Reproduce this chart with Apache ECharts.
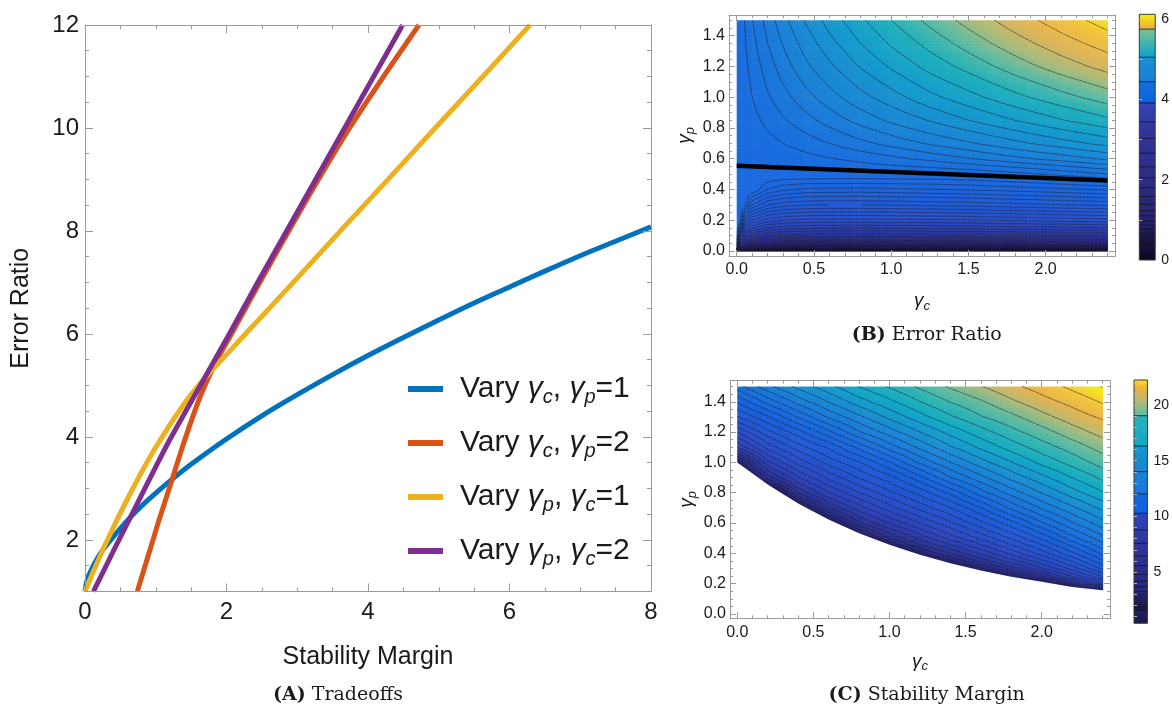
<!DOCTYPE html>
<html>
<head>
<meta charset="utf-8">
<script src="https://cdn.jsdelivr.net/npm/echarts@6.0.0/dist/echarts.min.js"></script>
<style>
html,body{margin:0;padding:0;background:#ffffff;}
#chart{width:1172px;height:706px;}
</style>
</head>
<body>
<div id="chart"></div>
<script>
// ================= DATA =================
// Panel A: Tradeoffs
const seriesNames = ['Vary γc, γp=1', 'Vary γc, γp=2', 'Vary γp, γc=1', 'Vary γp, γc=2'];
const blueX = [0, 0.03, 0.08, 0.15, 0.25, 0.4, 0.6, 0.8, 1.0, 1.25, 1.5, 2.0, 2.5, 3.0, 3.5, 4.0, 4.5, 5.0, 5.5, 6.0, 6.5, 7.0, 7.5, 8.0];
const blueY = [1.0, 1.22, 1.39, 1.58, 1.8, 2.06, 2.38, 2.66, 2.91, 3.2, 3.47, 3.96, 4.41, 4.82, 5.21, 5.58, 5.93, 6.27, 6.6, 6.91, 7.22, 7.52, 7.8, 8.08];
const redX = [0.74, 0.85, 0.95, 1.05, 1.21, 1.4, 1.63, 1.85, 2.07, 2.47, 2.88, 3.3, 3.74, 4.22, 4.72];
const redY = [1, 1.5, 1.95, 2.4, 3.08, 3.9, 4.79, 5.45, 6, 7, 8, 9, 10, 11, 12];
const yellowX = [0, 0.1, 0.3, 0.65, 1.0, 1.4, 1.7, 2.33, 2.99, 3.65, 4.31, 4.97, 5.63, 6.29];
const yellowY = [1, 1.33, 1.95, 2.93, 3.8, 4.64, 5.15, 6.09, 7.07, 8.06, 9.04, 10.03, 11.01, 12];
const purpleX = [0.12, 0.4, 0.7, 1.0, 1.2, 1.63, 2.04, 2.44, 2.85, 3.26, 3.67, 4.08, 4.49];
const purpleY = [1, 1.78, 2.6, 3.42, 3.95, 5, 6, 7, 8, 9, 10, 11, 12];
const ticksAx = [0, 2, 4, 6, 8];
const ticksAy = [2, 4, 6, 8, 10, 12];

// Panel B: Error Ratio on a (gamma_c, gamma_p) grid
const gammaCB = [0, 0.02, 0.05, 0.1, 0.2, 0.3, 0.45, 0.6, 0.8, 1.0, 1.25, 1.5, 1.8, 2.1, 2.4];
const gammaPB = [0, 0.02, 0.05, 0.1, 0.15, 0.2, 0.3, 0.4, 0.5, 0.6, 0.7, 0.85, 1.0, 1.2, 1.35, 1.5];
const errorRatio = [
  [0, 0, 0, 0, 0, 0, 0, 0, 0, 0, 0, 0, 0, 0, 0],
  [3.9, 1.07, 0.80, 0.69, 0.64, 0.62, 0.61, 0.61, 0.60, 0.61, 0.61, 0.62, 0.62, 0.63, 0.64],
  [3.9, 1.83, 1.36, 1.18, 1.08, 1.05, 1.03, 1.03, 1.03, 1.03, 1.04, 1.05, 1.06, 1.07, 1.09],
  [3.9, 2.73, 2.03, 1.76, 1.62, 1.57, 1.55, 1.54, 1.54, 1.54, 1.55, 1.57, 1.59, 1.61, 1.63],
  [3.9, 3.46, 2.57, 2.23, 2.05, 1.99, 1.96, 1.95, 1.94, 1.95, 1.96, 1.98, 2.01, 2.03, 2.06],
  [3.9, 3.9, 3.04, 2.63, 2.42, 2.35, 2.31, 2.30, 2.30, 2.31, 2.32, 2.34, 2.37, 2.40, 2.43],
  [3.9, 3.9, 3.85, 3.33, 3.06, 2.97, 2.92, 2.91, 2.91, 2.92, 2.94, 2.96, 3.00, 3.04, 3.08],
  [3.9, 3.9, 3.9, 3.9, 3.62, 3.51, 3.45, 3.44, 3.43, 3.45, 3.47, 3.50, 3.54, 3.59, 3.64],
  [3.9, 3.9, 3.9, 3.9, 3.9, 3.9, 3.9, 3.9, 3.9, 3.9, 3.9, 3.92, 3.99, 4.08, 4.18],
  [3.9, 3.90, 3.91, 3.92, 3.93, 3.95, 3.99, 4.03, 4.08, 4.14, 4.22, 4.31, 4.42, 4.52, 4.63],
  [3.9, 3.91, 3.92, 3.95, 3.99, 4.04, 4.11, 4.18, 4.28, 4.37, 4.48, 4.58, 4.71, 4.83, 4.94],
  [3.9, 3.92, 3.95, 3.99, 4.08, 4.16, 4.27, 4.38, 4.51, 4.63, 4.76, 4.89, 5.03, 5.16, 5.28],
  [3.9, 3.93, 3.97, 4.04, 4.16, 4.27, 4.41, 4.54, 4.70, 4.83, 4.99, 5.12, 5.27, 5.40, 5.52],
  [3.9, 3.94, 4.00, 4.09, 4.25, 4.39, 4.57, 4.72, 4.90, 5.05, 5.22, 5.36, 5.52, 5.66, 5.78],
  [3.9, 3.95, 4.02, 4.13, 4.32, 4.47, 4.67, 4.84, 5.03, 5.19, 5.36, 5.51, 5.67, 5.81, 5.93],
  [3.9, 3.96, 4.04, 4.17, 4.38, 4.55, 4.77, 4.95, 5.14, 5.31, 5.49, 5.64, 5.80, 5.94, 6.07]
];
const thickLineB = [[0, 0.555], [2.4, 0.459]];
const levelsB = [4.04, 4.18, 4.32, 4.46, 4.60, 4.75, 4.89, 5.03, 5.17, 5.31, 5.45, 5.59, 5.73, 5.87, 6.01,
  3.76, 3.62, 3.48, 3.34, 3.20, 3.05, 2.91, 2.77, 2.63, 2.49, 2.35, 2.21, 2.07, 1.93, 1.79, 1.65, 1.51, 1.37, 1.23, 1.09, 0.95, 0.81, 0.67, 0.53, 0.39, 0.25, 0.11];
const ticksBx = [0, 0.5, 1.0, 1.5, 2.0];
const ticksBy = [0, 0.2, 0.4, 0.6, 0.8, 1.0, 1.2, 1.4];
const barTicksB = [0, 2, 4, 6];
const barLinesB = [5.75, 5.05, 4.44, 3.91, 3.44, 3.03, 2.66, 2.32, 2.05, 1.8, 1.58, 1.39, 1.23, 1.1, 0.97, 0.87, 0.77, 0.69, 0.62, 0.57, 0.52, 0.47, 0.43, 0.39, 0.35];
const barRangeB = [0, 6.12];

// Panel C: Stability Margin on a (gamma_c, gamma_p) grid
const gammaCC = [0, 0.2, 0.4, 0.6, 0.8, 1.0, 1.2, 1.4, 1.6, 1.8, 2.0, 2.2, 2.4];
const gammaPC = [0.1, 0.15, 0.2, 0.25, 0.3, 0.35, 0.4, 0.45, 0.5, 0.6, 0.7, 0.8, 0.9, 1.0, 1.1, 1.2, 1.3, 1.4, 1.5];
const stabilityMargin = [
  [-6.4, -6.4, -6.4, -6.4, -6.4, -6.4, -6.4, -6.4, -6.4, -6.4, -4.9, -4.2, -2.7],
  [-6.4, -6.4, -6.4, -6.4, -6.4, -6.4, -6.4, -6.4, -6.4, -3.4, -2.0, -1.2, 0.26],
  [-6.4, -6.4, -6.4, -6.4, -6.4, -6.4, -6.4, -6.4, -2.7, -0.5, 0.3, 2.7, 5.7],
  [-6.4, -6.4, -6.4, -6.4, -6.4, -6.4, -4.9, -2.7, -0.3, 1.2, 3.3, 5.5, 7.8],
  [-6.4, -6.4, -6.4, -6.4, -6.4, -6.4, -2.0, -0.2, 1.6, 3.5, 5.3, 7.2, 9.3],
  [-6.4, -6.4, -6.4, -6.4, -6.4, -3.4, -0.3, 1.6, 3.5, 5.1, 6.7, 8.5, 10.5],
  [-6.4, -6.4, -6.4, -6.4, -4.9, -1.1, 1.4, 3.3, 4.8, 6.4, 8.0, 9.7, 11.5],
  [-6.4, -6.4, -6.4, -6.4, -2.0, 0.8, 3.0, 4.5, 6.0, 7.5, 9.0, 10.7, 12.5],
  [-6.4, -6.4, -6.4, -2.7, -0.1, 2.5, 4.2, 5.7, 7.1, 8.5, 10.0, 11.8, 13.3],
  [-6.4, -6.4, -3.4, 0.3, 3.1, 4.8, 6.2, 7.5, 8.9, 10.3, 12.0, 13.5, 14.8],
  [-4.9, -3.4, 0.0, 3.3, 5.1, 6.6, 7.9, 9.1, 10.6, 12.3, 13.7, 14.9, 16.0],
  [-3.4, -1.3, 3.3, 5.4, 6.9, 8.2, 9.4, 10.8, 12.5, 13.9, 15.1, 16.2, 17.2],
  [-1.2, 2.9, 5.4, 7.1, 8.5, 9.6, 11.1, 12.8, 14.1, 15.3, 16.3, 17.3, 18.2],
  [1.0, 5.2, 7.2, 8.7, 9.8, 11.3, 13.0, 14.3, 15.5, 16.5, 17.5, 18.3, 19.1],
  [4.8, 7.2, 8.8, 10.0, 11.6, 13.2, 14.5, 15.7, 16.7, 17.6, 18.4, 19.1, 19.8],
  [7.0, 8.9, 10.3, 11.9, 13.5, 14.7, 15.8, 16.8, 17.7, 18.5, 19.2, 19.9, 20.5],
  [9.1, 10.5, 12.2, 13.7, 14.9, 16.0, 17.0, 17.9, 18.7, 19.3, 20.0, 20.6, 21.1],
  [10.7, 12.4, 13.9, 15.1, 16.2, 17.1, 18.0, 18.8, 19.4, 20.1, 20.7, 21.2, 21.8],
  [12.5, 14.1, 15.3, 16.3, 17.3, 18.1, 18.9, 19.6, 20.2, 20.8, 21.3, 21.9, 22.5]
];
const boundaryGc = [0, 0.2, 0.4, 0.6, 0.8, 1.0, 1.2, 1.4, 1.6, 1.8, 2.0, 2.2, 2.4];
const boundaryGp = [1.0, 0.855, 0.729, 0.623, 0.533, 0.456, 0.39, 0.335, 0.287, 0.246, 0.212, 0.178, 0.157];
const levelsC = [1.74, 2.48, 3.22, 3.96, 4.70, 5.44, 6.18, 6.92, 7.66, 8.40, 9.14, 9.88, 10.62, 11.36, 12.10, 12.84, 13.58, 14.32, 15.06, 15.80, 16.54, 17.28, 18.02, 18.76, 19.50, 20.24, 20.98, 21.72, 22.46];
const ticksCx = [0, 0.5, 1.0, 1.5, 2.0];
const ticksCy = [0, 0.2, 0.4, 0.6, 0.8, 1.0, 1.2, 1.4];
const barTicksC = [5, 10, 15, 20];
const barLinesC = [19.04, 16.32, 14.01, 12.01, 10.28, 8.78, 7.58, 6.44, 5.57, 4.8, 4.2, 3.69, 3.24, 2.94, 2.7, 2.49, 2.28, 2.1, 1.95, 1.82, 1.68, 1.55];
const barRangeC = [0.4, 22.25];

// ================= STYLE =================
const SANS = 'Liberation Sans, Arial, sans-serif';
const SERIF = 'DejaVu Serif, serif';
const FRAME = '#9a9a9a';
const TXT = '#1a1a1a';
const CONTOUR = 'rgba(30,30,50,0.6)';
const lineColors = ['#0072BD', '#D95319', '#EDB120', '#7E2F8E'];
const paletteB = [[0, '#06051a'], [0.3, '#0e0c30'], [0.6, '#181650'], [0.95, '#221f6a'], [1.35, '#2a2e90'], [1.8, '#2c3ca8'], [2.3, '#2a4cc4'], [2.8, '#2458d2'], [3.3, '#1e62da'], [3.9, '#1a6ae0'], [4.3, '#1b78da'], [4.7, '#1a8ad4'], [5.05, '#159ecc'], [5.3, '#20b0bc'], [5.5, '#5cbca4'], [5.65, '#a8bc7c'], [5.8, '#e0b458'], [5.95, '#f2c040'], [6.12, '#f8ee10']];
const paletteC = [[0.4, '#17133f'], [1.0, '#1f1b5c'], [2.0, '#28287c'], [3.5, '#2c3496'], [5.0, '#2d40b2'], [7.0, '#2a4cc6'], [9.0, '#2258d2'], [11.0, '#1864dc'], [13.0, '#1a74da'], [15.0, '#1a88d4'], [16.3, '#169ccc'], [17.3, '#12aac4'], [18.5, '#30b4b4'], [19.5, '#70bc98'], [20.3, '#b8ba74'], [21.0, '#e8b44c'], [21.7, '#f4c838'], [22.4, '#f8ec18']];
const barPaletteB = [[0, '#08061a'], [0.5, '#1c1850'], [1.0, '#26236e'], [2.0, '#2c2c86'], [3.0, '#2f3394'], [3.4, '#3038a2'], [3.9, '#2f46b8'], [3.95, '#0c62e0'], [4.4, '#1270dc'], [4.5, '#1a80d8'], [5.0, '#1a90d2'], [5.1, '#10a6c8'], [5.7, '#78c094'], [5.78, '#eeb040'], [6.12, '#f8f010']];
const barPaletteC = [[0.4, '#1a1646'], [2.0, '#262474'], [5.0, '#2c2c88'], [8.0, '#3038a4'], [10.2, '#2e44bc'], [10.35, '#0e60e0'], [12.0, '#1268dc'], [12.1, '#1676da'], [14.0, '#1a84d6'], [16.3, '#1596ce'], [16.4, '#10a8c8'], [19.0, '#2ab4b8'], [19.1, '#62bca0'], [20.5, '#c0b870'], [21.5, '#f0b040'], [22.25, '#f8ec18']];

// ================= HELPERS =================
function zip(xs, ys) { return xs.map((x, k) => [x, ys[k]]); }
function steps(a, b, d, skip) {
  const out = [];
  for (let k = 0; ; k++) {
    const v = Math.round((a + k * d) * 1000) / 1000;
    if (v > b + 1e-9) break;
    if (!skip.some(s => Math.abs(s - v) < 1e-9)) out.push(v);
  }
  return out;
}
function hexRgb(h) { return [parseInt(h.slice(1, 3), 16), parseInt(h.slice(3, 5), 16), parseInt(h.slice(5, 7), 16)]; }
function makeScale(stops) {
  const vs = stops.map(s => s[0]), cs = stops.map(s => hexRgb(s[1]));
  const n = vs.length;
  const str = c => 'rgb(' + c[0] + ',' + c[1] + ',' + c[2] + ')';
  return function (v) {
    if (v <= vs[0]) return str(cs[0]);
    if (v >= vs[n - 1]) return str(cs[n - 1]);
    let k = 1; while (vs[k] < v) k++;
    const t = (v - vs[k - 1]) / (vs[k] - vs[k - 1]);
    const a = cs[k - 1], b = cs[k];
    return str([Math.round(a[0] + (b[0] - a[0]) * t), Math.round(a[1] + (b[1] - a[1]) * t), Math.round(a[2] + (b[2] - a[2]) * t)]);
  };
}
function cellData(gx, gy) {
  const d = [];
  for (let j = 0; j < gy.length - 1; j++)
    for (let i = 0; i < gx.length - 1; i++)
      d.push([(gx[i] + gx[i + 1]) / 2, (gy[j] + gy[j + 1]) / 2, i, j]);
  return d;
}
function bil(z00, z10, z01, z11, s, t) {
  return (1 - s) * (1 - t) * z00 + s * (1 - t) * z10 + (1 - s) * t * z01 + s * t * z11;
}
function fillRenderer(gx, gy, Z, scale, cellMin) {
  return function (params, api) {
    const i = api.value(2), j = api.value(3);
    const z00 = Z[j][i], z10 = Z[j][i + 1], z01 = Z[j + 1][i], z11 = Z[j + 1][i + 1];
    if (Math.max(z00, z10, z01, z11) < cellMin) return null;
    const p0 = api.coord([gx[i], gy[j]]), p1 = api.coord([gx[i + 1], gy[j + 1]]);
    const w = p1[0] - p0[0], h = p0[1] - p1[1];
    const nx = Math.max(1, Math.round(w / 3)), ny = Math.max(1, Math.round(h / 3));
    const ch = [];
    for (let a = 0; a < nx; a++) {
      const s = (a + 0.5) / nx;
      for (let b = 0; b < ny; b++) {
        const t = (b + 0.5) / ny;
        const v = bil(z00, z10, z01, z11, s, t);
        ch.push({ type: 'rect', shape: { x: p0[0] + a * w / nx, y: p0[1] - (b + 1) * h / ny, width: w / nx + 0.6, height: h / ny + 0.6 }, style: { fill: scale(v) } });
      }
    }
    return { type: 'group', children: ch };
  };
}
function contourRenderer(gx, gy, Z, levels, stroke, lw) {
  return function (params, api) {
    const i = api.value(2), j = api.value(3);
    const z00 = Z[j][i], z10 = Z[j][i + 1], z01 = Z[j + 1][i], z11 = Z[j + 1][i + 1];
    const lo = Math.min(z00, z10, z01, z11), hi = Math.max(z00, z10, z01, z11);
    const lv = levels.filter(L => L > lo && L < hi);
    if (!lv.length) return null;
    const p0 = api.coord([gx[i], gy[j]]), p1 = api.coord([gx[i + 1], gy[j + 1]]);
    const w = p1[0] - p0[0], h = p0[1] - p1[1];
    const nx = Math.max(1, Math.round(w / 4)), ny = Math.max(1, Math.round(h / 4));
    const dx = w / nx, dy = h / ny;
    const V = [];
    for (let a = 0; a <= nx; a++) for (let b = 0; b <= ny; b++) V[a * (ny + 1) + b] = bil(z00, z10, z01, z11, a / nx, b / ny);
    let d = '';
    const f1 = x => x.toFixed(1);
    for (const L0 of lv) {
      const L = L0 + 1e-7;
      for (let a = 0; a < nx; a++) for (let b = 0; b < ny; b++) {
        const v0 = V[a * (ny + 1) + b], v1 = V[(a + 1) * (ny + 1) + b], v2 = V[(a + 1) * (ny + 1) + b + 1], v3 = V[a * (ny + 1) + b + 1];
        const X = p0[0] + a * dx, Y = p0[1] - b * dy;
        const pts = [];
        if ((v0 - L) * (v1 - L) < 0) pts.push([X + (L - v0) / (v1 - v0) * dx, Y]);
        if ((v1 - L) * (v2 - L) < 0) pts.push([X + dx, Y - (L - v1) / (v2 - v1) * dy]);
        if ((v3 - L) * (v2 - L) < 0) pts.push([X + (L - v3) / (v2 - v3) * dx, Y - dy]);
        if ((v0 - L) * (v3 - L) < 0) pts.push([X, Y - (L - v0) / (v3 - v0) * dy]);
        if (pts.length >= 2) d += 'M' + f1(pts[0][0]) + ' ' + f1(pts[0][1]) + 'L' + f1(pts[1][0]) + ' ' + f1(pts[1][1]);
        if (pts.length === 4) d += 'M' + f1(pts[2][0]) + ' ' + f1(pts[2][1]) + 'L' + f1(pts[3][0]) + ' ' + f1(pts[3][1]);
      }
    }
    if (!d) return null;
    return { type: 'path', shape: { pathData: d }, style: { stroke: stroke, lineWidth: lw, fill: null, lineCap: 'round' } };
  };
}
function barRenderer(palette, range) {
  return function (params, api) {
    const a = api.coord([0, range[1]]), b = api.coord([1, range[0]]);
    const stops = palette.map(s => ({ offset: (range[1] - s[0]) / (range[1] - range[0]), color: s[1] })).sort((p, q) => p.offset - q.offset);
    return { type: 'rect', shape: { x: a[0], y: a[1], width: b[0] - a[0], height: b[1] - a[1] },
      style: { fill: new echarts.graphic.LinearGradient(0, 0, 0, 1, stops), stroke: '#3a3a3a', lineWidth: 1 } };
  };
}
function barLineRenderer(params, api) {
  const a = api.coord([0, api.value(1)]), b = api.coord([1, api.value(1)]);
  return { type: 'line', shape: { x1: a[0], y1: a[1], x2: b[0], y2: b[1] }, style: { stroke: 'rgba(20,20,35,0.8)', lineWidth: 1 } };
}
function maskRenderer(params, api) {
  const pts = boundaryGc.map((u, k) => api.coord([u, boundaryGp[k]]));
  const br = api.coord([gammaCC[gammaCC.length - 1], gammaPC[0]]);
  const bl = api.coord([gammaCC[0], gammaPC[0]]);
  pts.push([br[0] + 1, pts[pts.length - 1][1]]);
  pts.push([br[0] + 1, br[1] + 2]);
  pts.push([bl[0] - 1, bl[1] + 2]);
  pts.push([bl[0] - 1, pts[0][1]]);
  return { type: 'polygon', shape: { points: pts }, style: { fill: '#ffffff' } };
}

// ================= AXES =================
const xAxes = [], yAxes = [];
function addFrame(grid, xr, yr, xMaj, xMin, yMaj, yMin, o) {
  const idx = { x: xAxes.length, y: yAxes.length };
  const base = (r) => ({ type: 'value', gridIndex: grid, min: r[0], max: r[1], z: 10, splitLine: { show: false } });
  const lab = (vals, margin, fmt) => ({ show: true, customValues: vals, margin: margin, fontSize: o.fontSize, color: TXT, fontFamily: SANS, formatter: fmt });
  ['bottom', 'top'].forEach((pos, pi) => {
    xAxes.push(Object.assign(base(xr), {
      position: pos,
      axisLine: { show: true, onZero: false, lineStyle: { color: FRAME, width: 1 } },
      axisTick: { show: true, inside: true, length: o.majLen, customValues: xMaj, lineStyle: { color: FRAME } },
      axisLabel: pi === 0 ? lab(xMaj, o.xMargin, o.xFmt) : { show: false },
      name: pi === 0 ? o.xName : '', nameLocation: 'middle', nameGap: o.xNameGap, nameTextStyle: o.nameStyle
    }));
    xAxes.push(Object.assign(base(xr), {
      position: pos, axisLine: { show: false, onZero: false },
      axisTick: { show: true, inside: true, length: o.minLen, customValues: xMin, lineStyle: { color: FRAME } },
      axisLabel: { show: false }
    }));
  });
  ['left', 'right'].forEach((pos, pi) => {
    yAxes.push(Object.assign(base(yr), {
      position: pos,
      axisLine: { show: true, onZero: false, lineStyle: { color: FRAME, width: 1 } },
      axisTick: { show: true, inside: true, length: o.majLen, customValues: yMaj, lineStyle: { color: FRAME } },
      axisLabel: pi === 0 ? lab(yMaj, o.yMargin, o.yFmt) : { show: false },
      name: pi === 0 ? o.yName : '', nameLocation: 'middle', nameGap: o.yNameGap, nameRotate: 90, nameTextStyle: o.nameStyle
    }));
    yAxes.push(Object.assign(base(yr), {
      position: pos, axisLine: { show: false, onZero: false },
      axisTick: { show: true, inside: true, length: o.minLen, customValues: yMin, lineStyle: { color: FRAME } },
      axisLabel: { show: false }
    }));
  });
  return idx;
}
const greekName = {
  fontFamily: SANS, color: TXT,
  rich: {
    g: { fontSize: 19, fontStyle: 'italic', fontFamily: SANS, color: TXT, lineHeight: 24 },
    s: { fontSize: 13, fontStyle: 'italic', fontFamily: SANS, color: TXT, lineHeight: 13, verticalAlign: 'bottom' }
  }
};
const fmt1 = v => Number(v).toFixed(1);
const axA = addFrame(0, [0, 8], [1, 12], ticksAx, steps(0, 8, 0.5, ticksAx), ticksAy, steps(1, 12, 0.5, ticksAy), {
  fontSize: 24, xMargin: 9, yMargin: 6, xFmt: v => String(v), yFmt: v => String(v), majLen: 8, minLen: 4,
  xName: 'Stability Margin', yName: 'Error Ratio', xNameGap: 53, yNameGap: 51,
  nameStyle: { fontSize: 25, fontFamily: SANS, color: TXT }
});
const axB = addFrame(1, [-0.05, 2.449], [-0.0325, 1.5345], ticksBx, steps(0, 2.4, 0.1, ticksBx), ticksBy, steps(0, 1.5, 0.05, ticksBy), {
  fontSize: 16, xMargin: 6, yMargin: 4, xFmt: fmt1, yFmt: fmt1, majLen: 6, minLen: 3,
  xName: '{g|γ}{s|c}', yName: '{g|γ}{s|p}', xNameGap: 33, yNameGap: 32, nameStyle: greekName
});
const axC = addFrame(2, [-0.048, 2.449], [-0.0284, 1.5389], ticksCx, steps(0, 2.4, 0.1, ticksCx), ticksCy, steps(0, 1.5, 0.05, ticksCy), {
  fontSize: 16, xMargin: 6, yMargin: 4, xFmt: fmt1, yFmt: fmt1, majLen: 6, minLen: 3,
  xName: '{g|γ}{s|c}', yName: '{g|γ}{s|p}', xNameGap: 31, yNameGap: 31, nameStyle: greekName
});
// colorbars
const barAx = {};
[[3, barRangeB, barTicksB, steps(0, 6, 1, [])], [4, barRangeC, barTicksC, steps(1, 22, 1, [])]].forEach(([g, r, lt, tt]) => {
  barAx[g] = { x: xAxes.length, y: yAxes.length };
  xAxes.push({ type: 'value', gridIndex: g, min: 0, max: 1, show: false });
  yAxes.push({ type: 'value', gridIndex: g, position: 'right', min: r[0], max: r[1], z: 10,
    splitLine: { show: false }, axisLine: { show: false },
    axisTick: { show: true, inside: false, length: 3, customValues: tt, lineStyle: { color: '#b0b0b0' } },
    axisLabel: { show: true, customValues: lt, margin: 6, fontSize: 14, fontFamily: SANS, color: TXT } });
});

// ================= SERIES =================
const scaleB = makeScale(paletteB), scaleC = makeScale(paletteC);
const lineData = [zip(blueX, blueY), zip(redX, redY), zip(yellowX, yellowY), zip(purpleX, purpleY)];
const series = [];
lineData.forEach((d, k) => series.push({
  name: seriesNames[k], type: 'line', xAxisIndex: axA.x, yAxisIndex: axA.y, data: d,
  showSymbol: false, smooth: 0.3, clip: true, silent: true,
  lineStyle: { color: lineColors[k], width: 5 }, itemStyle: { color: lineColors[k] }, z: 2 + k * 0.1
}));
// Panel B
series.push({ type: 'custom', xAxisIndex: axB.x, yAxisIndex: axB.y, data: cellData(gammaCB, gammaPB), encode: { x: 0, y: 1 },
  renderItem: fillRenderer(gammaCB, gammaPB, errorRatio, scaleB, -Infinity), silent: true, z: 1 });
series.push({ type: 'custom', xAxisIndex: axB.x, yAxisIndex: axB.y, data: cellData(gammaCB, gammaPB), encode: { x: 0, y: 1 },
  renderItem: contourRenderer(gammaCB, gammaPB, errorRatio, levelsB, CONTOUR, 0.7), silent: true, z: 2 });
series.push({ type: 'line', xAxisIndex: axB.x, yAxisIndex: axB.y, data: thickLineB, showSymbol: false, silent: true,
  lineStyle: { color: '#000000', width: 4.5 }, z: 4 });
// Panel C
series.push({ type: 'custom', xAxisIndex: axC.x, yAxisIndex: axC.y, data: cellData(gammaCC, gammaPC), encode: { x: 0, y: 1 },
  renderItem: fillRenderer(gammaCC, gammaPC, stabilityMargin, scaleC, 0.7), silent: true, z: 1 });
series.push({ type: 'custom', xAxisIndex: axC.x, yAxisIndex: axC.y, data: cellData(gammaCC, gammaPC), encode: { x: 0, y: 1 },
  renderItem: contourRenderer(gammaCC, gammaPC, stabilityMargin, levelsC, CONTOUR, 0.7), silent: true, z: 2 });
series.push({ type: 'custom', xAxisIndex: axC.x, yAxisIndex: axC.y, data: [[1.2, 0.5]], encode: { x: 0, y: 1 },
  renderItem: maskRenderer, silent: true, z: 3 });
// colorbars
series.push({ type: 'custom', xAxisIndex: barAx[3].x, yAxisIndex: barAx[3].y, data: [[0.5, 3]], encode: { x: 0, y: 1 },
  renderItem: barRenderer(barPaletteB, barRangeB), silent: true, z: 1 });
series.push({ type: 'custom', xAxisIndex: barAx[3].x, yAxisIndex: barAx[3].y, data: barLinesB.map(v => [0.5, v]), encode: { x: 0, y: 1 },
  renderItem: barLineRenderer, silent: true, z: 2 });
series.push({ type: 'custom', xAxisIndex: barAx[4].x, yAxisIndex: barAx[4].y, data: [[0.5, 10]], encode: { x: 0, y: 1 },
  renderItem: barRenderer(barPaletteC, barRangeC), silent: true, z: 1 });
series.push({ type: 'custom', xAxisIndex: barAx[4].x, yAxisIndex: barAx[4].y, data: barLinesC.map(v => [0.5, v]), encode: { x: 0, y: 1 },
  renderItem: barLineRenderer, silent: true, z: 2 });

const captionRich = {
  b: { fontFamily: SERIF, fontWeight: 'bold', fontSize: 19, fill: TXT, color: TXT },
  r: { fontFamily: SERIF, fontSize: 19, fill: TXT, color: TXT }
};
function caption(x, y, tag, text) {
  return { type: 'text', x: x, y: y, z: 20, silent: true,
    style: { text: '{b|(' + tag + ')} {r|' + text + '}', rich: captionRich, align: 'center', verticalAlign: 'middle', fill: TXT, font: '19px ' + SERIF } };
}

const option = {
  animation: false,
  backgroundColor: '#ffffff',
  textStyle: { fontFamily: SANS },
  grid: [
    { left: 85, top: 25, width: 566, height: 566.4 },
    { left: 729, top: 15, width: 386, height: 241 },
    { left: 730, top: 380.7, width: 380, height: 237.6 },
    { left: 1139.3, top: 14.3, width: 16.7, height: 245.7 },
    { left: 1134, top: 380, width: 16.7, height: 243.3 }
  ],
  xAxis: xAxes,
  yAxis: yAxes,
  legend: {
    data: seriesNames, left: 408, top: 371, orient: 'vertical', padding: 0,
    itemWidth: 35, itemHeight: 6, itemGap: 18, icon: 'rect', selectedMode: false,
    formatter: name => '{sp|}' + name.replace(/γ([cp])/g, '{g|γ}{s|$1}'),
    textStyle: {
      fontSize: 30, lineHeight: 36, fontFamily: SANS, color: TXT,
      rich: {
        sp: { width: 12 },
        g: { fontSize: 30, fontStyle: 'italic', lineHeight: 36, fontFamily: SANS, color: TXT },
        s: { fontSize: 20, fontStyle: 'italic', lineHeight: 20, verticalAlign: 'bottom', fontFamily: SANS, color: TXT }
      }
    }
  },
  graphic: [
    caption(338, 695, 'A', 'Tradeoffs'),
    caption(926.7, 335, 'B', 'Error Ratio'),
    caption(926.7, 695, 'C', 'Stability Margin')
  ],
  series: series
};
const chart = echarts.init(document.getElementById('chart'), null, { renderer: 'canvas', width: 1172, height: 706 });
chart.setOption(option);
</script>
</body>
</html>
